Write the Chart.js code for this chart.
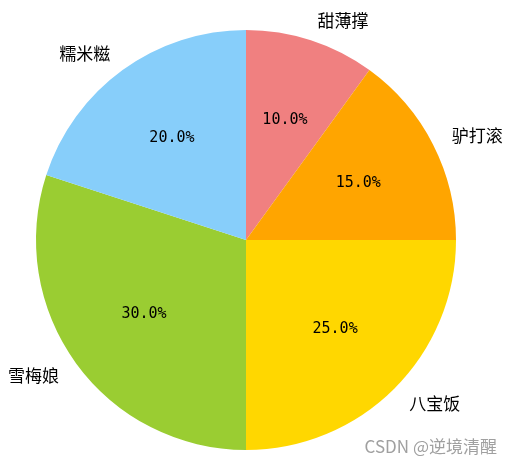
<!DOCTYPE html>
<html>
<head>
<meta charset="utf-8">
<script src="https://cdn.jsdelivr.net/npm/chart.js@4"></script>
<style>
  html, body { margin: 0; padding: 0; background: #fff; }
  #wrap { width: 512px; height: 466px; }
</style>
</head>
<body>
<div id="wrap"><canvas id="pie" width="512" height="466"></canvas></div>
<script>
// data (clockwise from 12 o'clock)
const labels = ['甜薄撑', '驴打滚', '八宝饭', '雪梅娘', '糯米糍'];
const values = [10, 15, 25, 30, 20];
const colors = ['#F08080', '#FFA500', '#FFD700', '#9ACD32', '#87CEFA'];
const watermark = 'CSDN @逆境清醒';

// labels at 1.1 r, percentages at 0.6 r (matplotlib style)
const pieText = {
  id: 'pieText',
  afterDatasetsDraw(chart) {
    const ctx = chart.ctx;
    const arcs = chart.getDatasetMeta(0).data;
    const total = values.reduce((a,b)=>a+b,0);
    ctx.save();
    ctx.fillStyle = '#000';
    ctx.textBaseline = 'middle';
    arcs.forEach((arc, i) => {
      const mid = (arc.startAngle + arc.endAngle) / 2;
      const r = arc.outerRadius;
      const cx = Math.cos(mid), cy = Math.sin(mid);
      ctx.font = '17px "Noto Sans CJK SC", sans-serif';
      ctx.textAlign = cx >= 0 ? 'left' : 'right';
      ctx.fillText(labels[i], arc.x + cx * r * 1.1, arc.y + cy * r * 1.1);
      ctx.font = '15px "DejaVu Sans Mono", monospace';
      ctx.textAlign = 'center';
      const pct = (values[i] / total * 100).toFixed(1) + '%';
      ctx.fillText(pct, arc.x + cx * r * 0.6, arc.y + cy * r * 0.6);
    });
    ctx.font = '17px "Noto Sans CJK SC", sans-serif';
    ctx.fillStyle = '#a0a0a0';
    ctx.textAlign = 'right';
    ctx.fillText(watermark, 497, 447);
    ctx.restore();
  }
};

new Chart(document.getElementById('pie'), {
  type: 'pie',
  data: {
    labels,
    datasets: [{
      data: values,
      backgroundColor: colors,
      borderWidth: 0
    }]
  },
  options: {
    responsive: false,
    animation: false,
    layout: { padding: { left: 36, right: 56, top: 30, bottom: 16 } },
    plugins: {
      legend: { display: false },
      tooltip: { enabled: false }
    }
  },
  plugins: [pieText]
});
</script>
</body>
</html>
